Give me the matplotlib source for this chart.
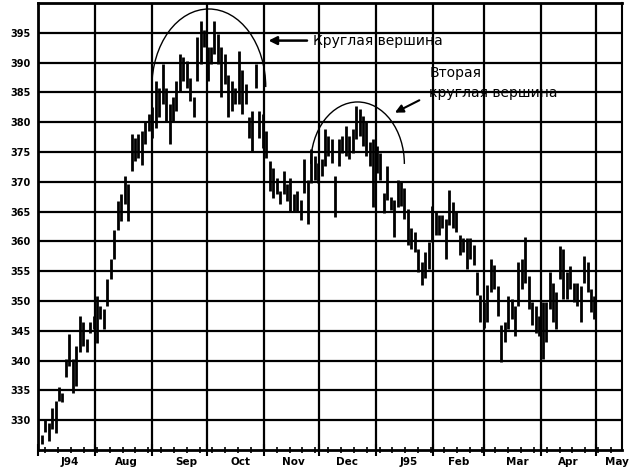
import pandas as pd
import matplotlib
matplotlib.use("Agg")
import matplotlib.pyplot as plt
import matplotlib.dates as mdates
from matplotlib.patches import Arc

# daily bar ranges (high / low), Jul 1994 - Apr 1995
highs = [327.5, 330.0, 329.5, 332.0, 333.2, 335.5, 334.6, 340.2, 344.4, 340.2,
         342.5, 347.5, 346.4, 343.6, 346.4, 347.5, 350.9, 349.2, 348.6, 353.7,
         357.0, 362.0, 366.7, 367.9, 371.0, 369.6, 378.0, 377.4, 378.0, 378.5,
         380.2, 381.3, 382.5, 387.0, 385.8, 389.8, 385.8, 383.0, 384.2, 387.0,
         391.5, 390.9, 390.3, 387.5, 384.2, 394.3, 397.0, 395.4, 392.6, 392.6,
         397.0, 394.8, 392.6, 391.5, 388.0, 387.0, 385.8, 392.0, 388.7, 386.4,
         380.8, 381.9, 389.8, 381.9, 381.3, 378.5, 373.5, 372.4, 370.7, 368.4,
         371.8, 369.6, 370.7, 367.9, 368.4, 367.0, 373.8, 370.3, 375.5, 374.3,
         373.2, 373.8, 378.9, 377.7, 377.2, 370.9, 377.2, 377.7, 379.4, 377.7,
         378.9, 382.8, 382.3, 381.1, 380.0, 376.6, 377.2, 376.0, 374.9, 368.1,
         372.6, 367.5, 366.9, 370.3, 370.0, 368.9, 365.5, 362.2, 361.6, 358.8,
         356.6, 358.2, 359.9, 366.0, 364.9, 364.4, 364.4, 363.8, 368.6, 366.6,
         364.9, 361.0, 360.5, 360.5, 360.5, 359.4, 354.9, 351.0, 349.9, 352.7,
         357.1, 356.0, 352.6, 345.9, 346.4, 350.9, 350.3, 349.2, 356.5, 357.0,
         360.7, 354.2, 349.8, 349.2, 347.5, 349.8, 349.8, 354.8, 353.1, 351.5,
         359.3, 358.7, 354.8, 355.9, 353.1, 353.1, 352.6, 357.6, 356.5, 352.0,
         350.9]
lows = [326.0, 328.0, 326.5, 328.5, 327.9, 333.2, 333.0, 337.2, 339.1, 334.6,
        335.8, 341.4, 342.5, 341.4, 344.7, 345.3, 343.0, 347.0, 345.3, 349.2,
        353.7, 357.0, 362.0, 363.4, 366.2, 363.4, 371.8, 373.5, 374.0, 372.9,
        376.3, 378.5, 377.4, 379.1, 380.8, 383.0, 380.2, 376.3, 380.2, 381.9,
        385.3, 387.0, 385.8, 383.6, 380.8, 387.0, 389.8, 392.6, 387.0, 389.8,
        391.5, 389.8, 384.2, 386.4, 380.8, 381.9, 383.0, 383.0, 381.3, 383.0,
        377.4, 375.2, 385.8, 377.4, 375.7, 374.0, 368.4, 367.3, 367.9, 366.2,
        367.9, 366.7, 365.1, 365.1, 365.1, 363.6, 368.1, 363.0, 369.8, 370.3,
        369.8, 370.9, 372.6, 374.3, 373.2, 364.1, 372.6, 374.9, 374.3, 373.8,
        374.9, 377.2, 377.7, 376.0, 374.3, 372.6, 365.8, 371.5, 370.3, 364.7,
        366.9, 365.2, 360.7, 365.8, 366.0, 363.8, 359.4, 358.8, 358.2, 354.9,
        352.7, 353.8, 355.4, 359.9, 361.0, 361.0, 362.2, 357.1, 362.7, 362.2,
        361.6, 357.7, 358.2, 355.4, 357.1, 356.0, 351.0, 346.5, 345.4, 346.5,
        351.5, 352.1, 347.5, 339.7, 343.1, 345.3, 347.0, 344.2, 349.2, 352.0,
        353.1, 348.7, 345.9, 344.7, 344.2, 340.3, 343.1, 348.7, 346.4, 345.3,
        353.7, 350.3, 350.3, 352.0, 349.8, 349.2, 346.4, 353.1, 351.5, 348.1,
        347.0]

month_labels = ["J94", "Aug", "Sep", "Oct", "Nov", "Dec", "J95", "Feb", "Mar", "Apr", "May"]
label_dates = ["1994-07-18", "1994-08-18", "1994-09-20", "1994-10-19", "1994-11-17",
               "1994-12-16", "1995-01-19", "1995-02-15", "1995-03-19", "1995-04-16", "1995-05-12"]

dates = pd.date_range("1994-07-03", "1995-04-30", periods=len(highs))

fig = plt.figure(figsize=(6.34, 4.75), dpi=100)
ax = fig.add_axes([0.06, 0.0526, 0.921, 0.941])

ax.vlines(dates, lows, highs, color="black", linewidth=2.0)

ax.set_xlim(pd.Timestamp("1994-07-01"), pd.Timestamp("1995-05-15"))
ax.set_ylim(325, 400)

# grid and ticks
ax.xaxis.set_major_locator(mdates.MonthLocator())
ax.xaxis.set_minor_locator(mdates.WeekdayLocator(byweekday=mdates.TU))
ax.set_yticks(range(330, 400, 5))
ax.grid(True, which="major", color="black", linewidth=1.6)
ax.tick_params(axis="x", which="major", direction="inout", length=9, width=1.5, labelbottom=False)
ax.tick_params(axis="x", which="minor", direction="inout", length=5, width=1.2)
ax.tick_params(axis="y", length=0, pad=5)
for lbl in ax.get_yticklabels():
    lbl.set_fontweight("bold")
    lbl.set_fontsize(7)
for side in ["left", "bottom", "top"]:
    ax.spines[side].set_linewidth(2)
ax.spines["right"].set_linewidth(1.5)

for lab, d in zip(month_labels, label_dates):
    ax.text(pd.Timestamp(d), -0.027, lab, transform=ax.get_xaxis_transform(),
            ha="center", va="center", fontsize=7.5, fontweight="bold")

# rounded tops
c1 = mdates.date2num(pd.Timestamp("1994-10-02"))
ax.add_patch(Arc((c1, 385.9), 62, 26.2, theta1=0, theta2=180, color="black", lw=1.0))
c2 = mdates.date2num(pd.Timestamp("1994-12-22"))
ax.add_patch(Arc((c2, 373.0), 51, 20.8, theta1=0, theta2=180, color="black", lw=1.0))

ax.annotate("", xy=(pd.Timestamp("1994-11-02"), 393.7), xytext=(pd.Timestamp("1994-11-26"), 393.7),
            arrowprops=dict(arrowstyle="-|>", color="black", lw=1.8, mutation_scale=12))
ax.text(pd.Timestamp("1994-11-28"), 393.7, "Круглая вершина", ha="left", va="center", fontsize=10)

ax.annotate("", xy=(pd.Timestamp("1995-01-10"), 381.4), xytext=(pd.Timestamp("1995-01-26"), 383.9),
            arrowprops=dict(arrowstyle="-|>", color="black", lw=1.5, mutation_scale=12))
ax.text(pd.Timestamp("1995-01-30"), 386.6, "Вторая\nкруглая вершина", ha="left", va="center",
        fontsize=10, linespacing=1.55)

plt.savefig("out.png", dpi=100)
plt.close()
